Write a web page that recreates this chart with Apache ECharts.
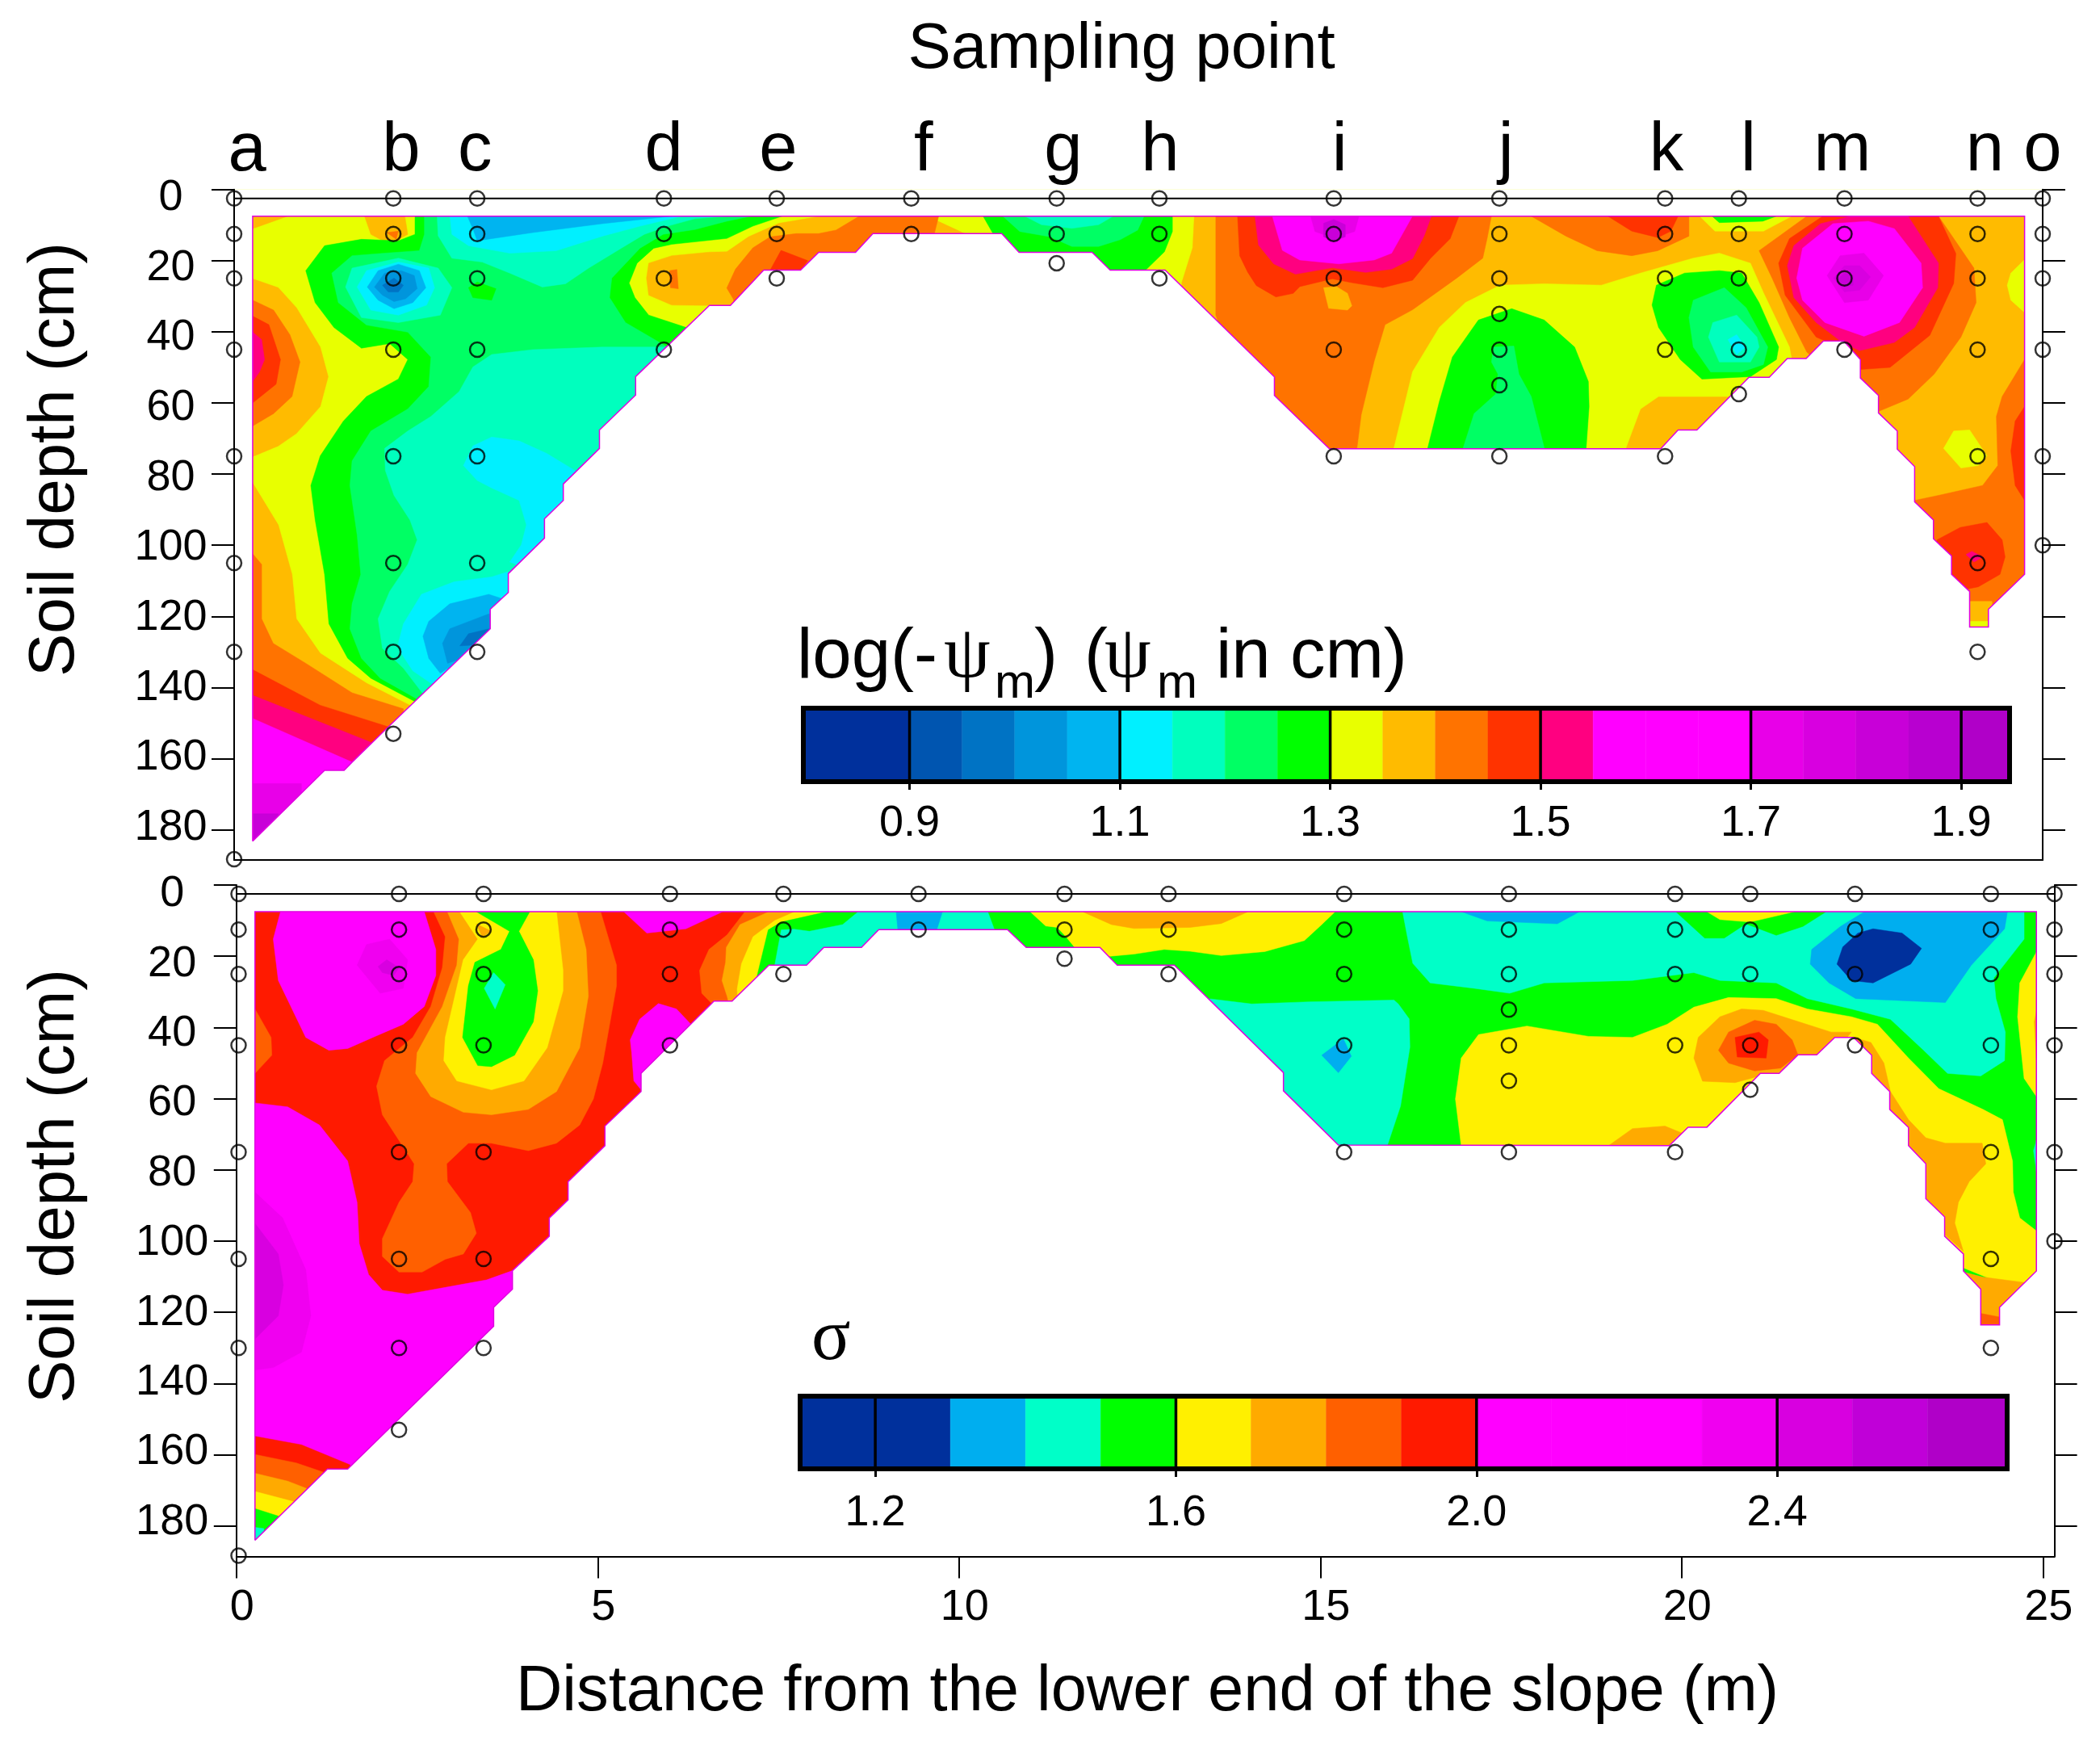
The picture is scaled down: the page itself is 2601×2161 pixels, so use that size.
<!doctype html>
<html lang="en">
<head>
<meta charset="UTF-8">
<title>Sampling point</title>
<script src="https://cdn.jsdelivr.net/npm/echarts@6/dist/echarts.min.js"></script>
<style>html,body{margin:0;background:#fff}#main{width:2601px;height:2161px}</style>
</head>
<body>
<div id="main"></div>
<script>
// sampling points
var sampleLetters = ['a','b','c','d','e','f','g','h','i','j','k','l','m','n','o'];
var letterX = [0.18,2.31,3.33,5.94,7.52,9.53,11.46,12.8,15.28,17.58,19.8,20.93,22.23,24.2,25.0];
var topSampleX = [0,2.2,3.36,5.94,7.5,9.36,11.37,12.79,15.2,17.49,19.78,20.8,22.26,24.1,25];
var bottomSampleX = [0.03,2.25,3.42,6,7.57,9.44,11.46,12.9,15.33,17.61,19.91,20.95,22.4,24.28,25.16];
var sampleDepths = [
    [2.5,12.5,25,45,75,105,130,188.3],
    [2.5,12.5,25,45,75,105,130,153],
    [2.5,12.5,25,45,75,105,130],
    [2.5,12.5,25,45],
    [2.5,12.5,25],
    [2.5,12.5],
    [2.5,12.5,20.7],
    [2.5,12.5,25],
    [2.5,12.5,25,45,75],
    [2.5,12.5,25,35,45,55,75],
    [2.5,12.5,25,45,75],
    [2.5,12.5,25,45,57.5],
    [2.5,12.5,25,45],
    [2.5,12.5,25,45,75,105,130],
    [2.5,12.5,25,45,75,100]
];

// axis ticks
var depthTicks = [0,20,40,60,80,100,120,140,160,180];
var distanceTicks = [0,5,10,15,20,25];

// colour scales (band edges, one colour per band)
var psiEdges = [0.799,0.9,0.95,1,1.05,1.1,1.15,1.2,1.25,1.3,1.35,1.4,1.45,1.5,1.55,1.6,1.65,1.7,1.75,1.8,1.85,1.9,1.946];
var psiColors = ['#00309c','#0055b0','#0073c4','#0095dc','#00b4f0','#00f0ff','#00ffbe','#00ff64','#00ff00','#e8ff00','#ffbb00','#ff7300','#ff3300','#ff0080','#ff00ff','#ff00ff','#ff00ff','#e800e8','#d800e0','#c800d8','#b800d0','#b000c8'];
var psiTicks = [0.9,1.1,1.3,1.5,1.7,1.9];
var sigmaEdges = [1.1,1.3,1.4,1.5,1.6,1.7,1.8,1.9,2,2.1,2.2,2.3,2.4,2.5,2.6,2.706];
var sigmaColors = ['#00309c','#00aeef','#00ffc8','#00ff00','#fff000','#ffaa00','#ff6000','#ff1a00','#ff00ff','#ff00ff','#ff00ff','#f000f0','#d800e0','#c000d8','#b000c8'];
var sigmaTicks = [1.2,1.6,2,2.4];

// outline of the measured section, [distance, depth]
var topOutline = [[0.256,183.2],[1.25,163.3],[1.52,163.3],[1.63,161],[2.11,151.5],[3.54,123.5],[3.54,118],[3.79,113.3],[3.79,108],[4.29,98],[4.29,92.6],[4.55,87.4],[4.55,82.8],[5.05,72.8],[5.05,67.6],[5.55,57.8],[5.55,52.6],[6.57,32.6],[6.86,32.6],[7.32,22.65],[7.83,22.65],[8.08,17.65],[8.59,17.65],[8.83,12.4],[10.61,12.4],[10.85,17.65],[11.86,17.65],[12.11,22.65],[12.87,22.65],[14.38,52.7],[14.38,57.9],[15.14,72.9],[19.72,72.9],[19.96,67.6],[20.22,67.6],[20.94,52.8],[21.22,52.8],[21.47,47.5],[21.73,47.5],[21.97,42.6],[22.25,42.6],[22.48,47.8],[22.48,53],[22.73,57.9],[22.73,62.8],[22.99,67.9],[22.99,73],[23.23,77.9],[23.23,87.8],[23.49,92.9],[23.49,98.2],[23.74,103],[23.74,108.2],[23.99,113],[23.99,123],[24.25,123],[24.25,118],[24.75,108.2],[24.75,7.5],[0.256,7.5]];
var bottomOutline = [[0.257,184],[1.26,164],[1.54,164],[3.56,123.9],[3.56,118.6],[3.82,113.5],[3.82,108.3],[4.33,98.6],[4.33,93.5],[4.59,88.4],[4.59,83.3],[5.1,73.2],[5.1,67.7],[5.6,58],[5.6,52.9],[6.61,32.6],[6.86,32.6],[7.37,22.5],[7.89,22.5],[8.13,17.5],[8.65,17.5],[8.89,12.5],[10.67,12.5],[10.93,17.5],[11.95,17.5],[12.19,22.5],[12.98,22.5],[14.49,52.7],[14.49,57.8],[15.25,73],[19.83,73.2],[20.09,68],[20.35,68],[21.09,52.9],[21.35,52.9],[21.61,47.7],[21.87,47.7],[22.12,42.8],[22.38,42.8],[22.63,47.8],[22.63,52.9],[22.88,58],[22.88,63],[23.14,68.1],[23.14,73.2],[23.38,78.3],[23.38,88.1],[23.64,93.2],[23.64,98.6],[23.9,103.6],[23.9,108.4],[24.14,113.5],[24.14,123.5],[24.4,123.5],[24.4,118.6],[24.91,108.4],[24.91,7.5],[0.257,7.5]];

// contour regions, painted in order: [value, [[distance, depth], ...]]
var topRegions = [
    [1.325,[[0,0],[26,0],[26,190],[0,190]]],
    // lower left
    [1.375,[[0,82.5],[0.256,82.5],[0.61,94.3],[0.8,108.2],[0.86,120.7],[1.19,130.4],[1.83,138.8],[2.43,145],[2.6,170],[0,190]]],
    [1.425,[[0,102.4],[0.256,102.4],[0.38,105.4],[0.38,120.7],[0.54,127.6],[0.99,133.2],[1.63,141.5],[2.34,146],[2.4,175],[0,190]]],
    [1.475,[[0,135],[0.256,135],[1.19,145],[2.2,151.5],[2.2,175],[0,190]]],
    [1.525,[[0,142.2],[0.256,142.2],[1.89,155.4],[1.9,175],[0,190]]],
    [1.6,[[0,148.7],[0.256,148.7],[1.63,161],[1.63,175],[0,190]]],
    [1.725,[[0,167],[0.93,167],[0.93,190],[0,190]]],
    [1.825,[[0,175.5],[0.61,175.5],[0.61,190],[0,190]]],
    // left edge bump
    [1.375,[[0,25.1],[0.256,25.1],[0.61,27.6],[0.86,33.2],[1.19,44.3],[1.3,52.6],[1.19,61],[0.86,68.6],[0.61,72.1],[0.256,75.1],[0,75.1]]],
    [1.425,[[0,31.1],[0.256,31.1],[0.545,33.9],[0.77,40.8],[0.91,48.5],[0.8,58.2],[0.545,63],[0.256,66.5],[0,66.5]]],
    [1.475,[[0,35.6],[0.256,35.6],[0.48,38],[0.64,47.8],[0.58,54.7],[0.256,60],[0,60]]],
    [1.525,[[0,40.1],[0.256,40.1],[0.38,42.2],[0.42,47.8],[0.35,51.3],[0.256,54],[0,54]]],
    // top left patches
    [1.375,[[0,5],[0.74,5],[0.74,7.5],[0.256,11],[0,11]]],
    [1.375,[[1.76,5],[1.89,12.6],[2.15,15.4],[2.4,12.6],[2.34,5]]],
    [1.425,[[2.11,12.1],[2.27,11.7],[2.24,14]]],
    // d to f
    [1.375,[[5.7,24.9],[5.73,20.7],[6.05,18.6],[6.57,17.6],[6.81,17.5],[7.11,13.3],[7.53,9.5],[8.14,7.4],[8.14,5],[9.57,5],[9.57,7.4],[10.1,12.4],[10.1,20],[8,30],[7,40],[6.57,32.6],[6.05,32.5],[5.73,29.7]]],
    [1.425,[[6.81,27.7],[6.93,22.4],[7.17,16.4],[7.41,13.3],[7.77,12.4],[8.08,12.4],[8.32,11.4],[8.65,7.4],[8.65,5],[9.74,5],[9.74,7.4],[9.68,12.4],[9.68,20],[7,40],[6.9,30.8]]],
    [1.475,[[7.41,22.65],[7.56,17.1],[7.93,20],[7.83,22.65],[7.83,25],[7.41,25]]],
    [1.425,[[6.02,22.8],[6.12,22.5],[6.14,27.9],[6.03,27.6]]],
    // left green family
    [1.275,[[2.5,5],[2.5,12.6],[2.27,14.4],[1.76,14],[1.25,15.8],[0.99,22.8],[1.12,31.8],[1.38,38.8],[1.76,44.6],[2.15,43.3],[2.4,47.8],[2.27,53.3],[1.83,58.2],[1.51,65.1],[1.19,74.9],[1.06,83.2],[1.12,92.9],[1.25,108.2],[1.31,122.1],[1.57,131.8],[1.89,137.4],[2.53,144.3],[3,150],[6.5,50],[6.25,38.8],[5.73,35.3],[5.54,30.4],[5.46,26.3],[5.57,20.7],[5.8,16.5],[6.05,15.4],[6.81,13.75],[7.17,10.3],[7.59,7.4],[7.59,5]]],
    [1.225,[[2.63,5],[2.63,12.6],[2.56,17.2],[2.08,17.9],[1.63,18.6],[1.35,23.5],[1.44,31.8],[1.83,38.1],[2.4,40.1],[2.72,47.1],[2.69,55.4],[2.4,61.7],[1.89,67.9],[1.63,76.3],[1.6,83.2],[1.7,97.1],[1.75,108.2],[1.63,116.5],[1.6,123.5],[1.76,131.8],[2.02,137.4],[2.5,142.9],[3,150],[6.5,60],[5.99,44.3],[5.41,37.4],[5.19,30.4],[5.22,24.9],[5.61,16.5],[5.93,12.6],[6.37,11.25],[6.81,8.9],[7.17,7.4],[7.17,5]]],
    [1.275,[[3.24,27.6],[3.36,26],[3.62,27.9],[3.56,31.1],[3.3,30.4]]],
    [1.175,[[5.99,44.3],[5.09,44.3],[4.13,45],[3.56,46.4],[3.3,49.9],[3.11,56.8],[2.72,63.8],[2.4,67.9],[2.08,72.8],[2.09,79],[2.21,86],[2.43,92.9],[2.53,98.5],[2.4,105.4],[2.15,113],[1.99,120.7],[2.05,129],[2.34,134.6],[2.6,141.5],[3,150],[6.5,60]]],
    [1.175,[[2.8,5],[2.82,13],[3.01,19.3],[3.43,20.4],[3.81,23.5],[4.26,27.4],[4.58,26.5],[4.9,22.1],[5.35,16.5],[5.67,12.6],[5.99,10.3],[6.37,8.2],[6.81,7.5],[6.81,5]]],
    [1.125,[[2.97,5],[3.01,12.6],[3.24,15.8],[3.81,17.9],[4.45,17.2],[5.09,13.1],[5.61,10.3],[6.18,7.5],[6.18,5]]],
    [1.075,[[3.17,5],[3.3,11],[3.36,14.4],[4.13,12.1],[5.09,9.6],[6.05,7.5],[6.05,5]]],
    // blob at b, 25 cm
    [1.175,[[1.54,27.4],[1.63,22.1],[2.27,19.3],[2.82,22.1],[3.01,27.6],[2.85,35.3],[2.27,37.4],[1.76,36]]],
    [1.125,[[1.7,27.4],[1.83,22.8],[2.27,20.4],[2.69,22.1],[2.77,27.6],[2.66,32.5],[2.27,35.3],[1.89,33.9]]],
    [1.075,[[1.84,27.4],[1.99,22.8],[2.27,21],[2.56,22.8],[2.65,27.6],[2.47,31.8],[2.21,33.5],[1.99,31.1]]],
    [1.025,[[1.94,27.4],[2.08,23.5],[2.31,22.8],[2.49,24.2],[2.53,27.9],[2.37,30.7],[2.21,31.5],[2.05,29.7]]],
    [0.975,[[2.05,26.9],[2.21,24.9],[2.34,26.9],[2.27,28.8],[2.13,28.8]]],
    // c, 75 cm and 130 cm
    [1.125,[[3.17,77.6],[3.3,72.1],[3.56,69.6],[3.94,70.7],[4.32,74.2],[4.71,79],[5,85],[4.5,110],[3.81,104.7],[3.97,99.9],[4.04,94.3],[3.94,87.4],[3.56,83.9],[3.36,81.8]]],
    [1.125,[[2.27,127.6],[2.34,122.1],[2.59,113.8],[3.04,110.3],[3.56,108.9],[3.78,107.5],[4,115],[3.2,140],[2.72,138.8],[2.47,135.3],[2.31,130.4]]],
    [1.075,[[2.61,125.6],[2.69,121.4],[2.98,116.5],[3.52,113.8],[3.7,115],[3.7,125],[2.85,136],[2.69,131.8]]],
    [1.025,[[2.88,127.6],[2.98,123.5],[3.52,119.3],[3.7,120],[3.7,128],[2.95,133.2]]],
    [0.975,[[3.12,128.3],[3.24,124.9],[3.52,123.5],[3.7,124],[3.4,128]]],
    // g and h
    [1.275,[[10.35,5],[10.35,7.4],[10.49,12.4],[10.49,25],[12.6,25],[12.6,22.65],[12.86,17.5],[12.97,11.8],[12.97,7.4],[12.97,5]]],
    [1.225,[[10.62,5],[10.62,7.4],[10.86,11.8],[11.28,13.3],[11.58,16],[11.95,16],[12.25,14.1],[12.49,11.4],[12.58,7.4],[12.58,5]]],
    [1.175,[[10.92,5],[10.92,7.4],[11.16,9.9],[11.58,10.9],[11.95,9.9],[12.16,7.4],[12.16,5]]],
    // right half base
    [1.375,[[13.28,5],[13.25,16.4],[13.1,26.2],[13.1,40],[14,90],[26,130],[26,5]]],
    [1.425,[[13.57,5],[13.57,35.3],[14,60],[15.14,75],[15.52,72.9],[15.58,63.3],[15.76,48.2],[15.91,38],[16.29,33.8],[16.9,24.9],[17.26,19.3],[17.32,13.8],[17.38,7.5],[17.38,5]]],
    [1.425,[[17.93,5],[17.93,7.5],[18.41,13.1],[18.84,17.2],[19.32,18.6],[19.68,17.2],[20.11,13.1],[20.11,5]]],
    [1.475,[[18.99,5],[18.99,7.5],[19.32,11.7],[19.68,13.5],[19.86,11.7],[19.96,7.5],[19.96,5]]],
    // i
    [1.475,[[13.87,5],[13.87,7.4],[13.9,18.6],[14.01,23.2],[14.13,27],[14.4,30.2],[14.64,29.2],[14.73,27.3],[15.18,25.1],[15.45,26.2],[15.88,27.6],[16.29,25.5],[16.54,19.3],[16.81,13.8],[16.93,7.5],[16.93,5]]],
    [1.525,[[14.11,5],[14.11,7.4],[14.16,15.6],[14.37,20.9],[14.67,23.8],[15.18,22],[15.64,23.3],[16,22.4],[16.29,19.4],[16.45,13],[16.55,7.5],[16.55,5]]],
    [1.6,[[14.35,5],[14.35,7.4],[14.49,17.1],[14.73,19.8],[15.27,20.9],[15.76,19.8],[16,17.9],[16.29,7.4],[16.29,5]]],
    [1.725,[[14.88,5],[14.88,7.4],[14.94,11.8],[15.2,13.7],[15.49,11.8],[15.55,7.4],[15.55,5]]],
    [1.825,[[15.06,9.5],[15.2,8.4],[15.36,9.9],[15.36,13.3],[15.2,14.5],[15.06,13.3]]],
    [1.375,[[15.06,27.6],[15.24,27.3],[15.39,29.2],[15.45,32.7],[15.39,33.9],[15.13,33.4]]],
    // j to l
    [1.325,[[16.03,75],[16.03,72.9],[16.29,51.2],[16.66,38.75],[17.02,31.8],[17.5,26.9],[18.11,26.5],[18.9,26.9],[19.44,23.5],[20.17,19.3],[20.53,17.9],[20.96,20.7],[21.14,29],[21.5,44.3],[21.53,47.8],[21.5,55],[20.65,58.2],[19.69,58.2],[19.44,61.7],[19.24,72.6],[19.24,75]]],
    [1.275,[[16.5,75],[16.5,72.6],[16.66,59.6],[16.84,47.1],[17.2,36.7],[17.66,33.5],[18.11,36.7],[18.53,44.3],[18.72,54],[18.73,61],[18.69,72.6],[18.69,75]]],
    [1.225,[[16.99,75],[16.99,72.6],[17.14,63],[17.44,57.5],[17.47,51.9],[17.38,48.5],[17.41,44.3],[17.69,44],[17.76,51.9],[17.93,58.2],[18.11,72.6],[18.11,75]]],
    [1.275,[[19.6,32.5],[19.66,26.9],[20.05,23.5],[20.53,22.8],[20.84,23.5],[21.08,31.8],[21.35,44.3],[21.32,47.8],[20.96,52.6],[20.29,53.3],[19.99,47.8],[19.69,38.75]]],
    [1.225,[[20.11,36],[20.17,31.1],[20.6,27.6],[20.9,33.2],[21.2,44.3],[21.14,49.2],[20.84,51.3],[20.41,51.3],[20.17,44.3]]],
    [1.175,[[20.38,41.5],[20.44,37.4],[20.77,35.3],[21.05,41.5],[21.08,44.3],[20.96,48.5],[20.53,48.5]]],
    [1.125,[[20.65,42.2],[20.77,40.8],[20.89,44.3],[20.77,46.4]]],
    [1.325,[[20.26,5],[20.26,7.5],[20.47,11.7],[21.14,11.7],[21.53,7.5],[21.53,5]]],
    [1.275,[[20.43,5],[20.43,7.5],[20.53,9.3],[21.13,8.9],[21.32,7.5],[21.32,5]]],
    // m
    [1.425,[[21.74,5],[21.74,7.5],[21.08,17.2],[21.26,24.9],[21.5,36],[21.74,45.7],[22.5,60],[22.73,62.4],[23.14,58.9],[23.5,51.9],[23.87,41.5],[24.08,31.8],[24.05,22.1],[23.56,7.5],[23.56,5]]],
    [1.475,[[21.96,5],[21.96,7.5],[21.5,13.8],[21.35,20.7],[21.44,29.7],[21.87,41.5],[22.35,45.7],[22.48,50.6],[22.89,50],[23.44,41],[23.77,26.4],[23.8,18],[23.56,7.5],[23.56,5]]],
    [1.525,[[22.35,5],[22.35,7.5],[21.93,9.6],[21.56,15.8],[21.47,21.4],[21.56,30.4],[21.87,37.4],[22.23,43],[22.47,45.3],[22.95,43],[23.23,38.75],[23.55,27.6],[23.56,20.7],[23.14,7.5],[23.14,5]]],
    [1.6,[[21.6,24.9],[21.68,16.5],[22.1,9.6],[22.59,8.9],[22.95,11],[23.32,20.7],[23.34,27.6],[23.02,37.4],[22.53,41.25],[21.99,37.4],[21.68,31.1]]],
    [1.725,[[22.02,24.2],[22.2,18.6],[22.53,17.9],[22.8,24.2],[22.59,31.1],[22.26,31.8]]],
    [1.775,[[22.11,24.9],[22.26,21.4],[22.47,21.4],[22.62,24.6],[22.47,28.3],[22.26,28.8]]],
    [1.825,[[22.17,25.1],[22.26,23.5],[22.38,24.2],[22.38,26.9],[22.26,27.4]]],
    // n and right edge
    [1.325,[[24.51,26.9],[24.56,23.5],[24.75,19.7],[25,18],[25,36],[24.75,34.6],[24.56,31.1]]],
    [1.425,[[24.75,47.8],[24.44,58.2],[24.36,63.8],[24.38,77.6],[24.17,83.2],[23.56,86],[23.23,87.4],[23,100],[24,130],[26,130],[26,47.8]]],
    [1.475,[[24.75,61],[24.62,65.1],[24.56,73.5],[24.62,83.2],[24.75,87.4],[26,87.4],[26,61]]],
    [1.475,[[23.54,98.5],[23.86,95],[24.23,93.6],[24.44,98.5],[24.48,103.3],[24.41,108.2],[24.11,111.7],[23.94,112.4],[23.5,112]]],
    [1.525,[[23.94,102.6],[24.02,101.7],[24.17,103.3],[24.05,104.7]]],
    [1.325,[[23.63,72.8],[23.77,67.9],[23.99,67.6],[24.23,74.9],[24.11,77.6],[23.87,78.3]]],
    [1.375,[[23.9,115.8],[24.3,115.8],[24.3,122],[23.9,122]]],
    [1.325,[[23.9,121.4],[24.3,121.4],[24.3,125],[23.9,125]]]
];

var bottomRegions = [
    [1.95,[[0,0],[26,0],[26,190],[0,190]]],
    // b
    [2.15,[[0.61,5],[0.61,7.5],[0.51,15.2],[0.58,26.8],[0.96,42.8],[1.28,46.4],[1.54,45.9],[1.92,42.5],[2.31,39.1],[2.6,34.1],[2.76,25.4],[2.76,18.1],[2.6,7.5],[2.6,5]]],
    [2.35,[[1.67,22.5],[1.8,16.7],[2.12,15.2],[2.37,21],[2.31,29],[1.99,30.4]]],
    [2.45,[[1.96,22.9],[2.08,21],[2.25,23.2],[2.18,25.4],[2.02,24.6]]],
    // lower left
    [2.15,[[0,61.2],[0.257,61.2],[0.71,62.3],[1.15,67.4],[1.54,77.5],[1.67,89.1],[1.7,100.7],[1.83,109.4],[2.02,113.8],[2.37,114.9],[2.89,113],[3.46,110.9],[3.82,108.3],[4.5,115],[2,175],[0,190]]],
    [2.35,[[0,86.2],[0.257,86.2],[0.64,93.5],[0.96,108],[1.03,121],[0.9,131.2],[0.51,135.5],[0.257,136.2],[0,136.2]]],
    [2.45,[[0,95],[0.257,95],[0.58,103.6],[0.65,112.3],[0.58,121],[0.257,127.5],[0,127.5]]],
    [1.95,[[0,154.8],[0.257,154.8],[0.9,157.2],[1.57,162.8],[1.57,175],[0,190]]],
    [1.85,[[0,159.9],[0.257,159.9],[0.83,162.3],[1.25,165.2],[1.25,180],[0,190]]],
    [1.75,[[0,165.2],[0.257,165.2],[0.71,167.4],[0.99,169.6],[0.99,185],[0,190]]],
    [1.65,[[0,170.3],[0.257,170.3],[0.8,173.2],[0.8,185],[0,190]]],
    [1.55,[[0,175.1],[0.257,175.1],[0.58,177.2],[0.58,190],[0,190]]],
    [1.45,[[0,180.4],[0.257,180.4],[0.38,180.7],[0.38,190],[0,190]]],
    [1.85,[[0,34.8],[0.257,34.8],[0.48,42.8],[0.49,47.8],[0.257,52.9],[0,52.9]]],
    // c plume
    [1.85,[[2.73,5],[2.73,7.5],[2.89,14.5],[2.85,23.2],[2.69,34.1],[2.44,42.8],[2.05,49.3],[1.94,56.5],[2.02,64.5],[2.25,71.7],[2.46,78.3],[2.44,83.3],[2.25,89.1],[2.02,99.3],[2.02,104.3],[2.25,108.7],[2.57,108.7],[2.89,105.1],[3.14,103.6],[3.32,97.8],[3.24,92],[2.92,83.3],[2.91,78.3],[3.21,72.5],[3.53,72.5],[4.04,74.6],[4.43,72.5],[4.75,67.4],[4.94,60.1],[5.07,50],[5.26,28.3],[5.26,22.5],[5.04,7.5],[5.04,5]]],
    [1.75,[[2.92,5],[2.92,7.5],[3.08,15.2],[3.05,22.5],[2.85,34.1],[2.5,47.1],[2.48,52.9],[2.69,59.4],[3.14,63.8],[3.53,64.5],[4.04,63],[4.43,58],[4.75,45.7],[4.87,31.2],[4.84,18.1],[4.71,7.5],[4.71,5]]],
    [1.65,[[3.09,5],[3.09,7.5],[3.34,15.2],[3.14,21],[2.89,42.8],[2.87,49.3],[3.05,55],[3.53,57.5],[3.98,55],[4.3,45.7],[4.52,29.7],[4.52,23.9],[4.43,7.5],[4.43,5]]],
    [1.55,[[3.32,5],[3.32,7.5],[3.78,13],[3.66,18.1],[3.3,21.7],[3.21,28.3],[3.13,42.8],[3.34,50.7],[3.53,51],[3.85,47.8],[4.11,38.4],[4.17,29.7],[4.11,21],[3.91,13],[4.06,7.5],[4.06,5]]],
    [1.45,[[3.56,24.6],[3.72,28],[3.58,34.8],[3.43,29]]],
    [1.75,[[3.32,10.9],[3.53,13],[3.4,14.5]]],
    // d
    [2.15,[[5.36,5],[5.36,7.5],[5.68,13.5],[6.22,12.3],[6.73,7.5],[6.73,5]]],
    [2.15,[[5.45,43.5],[5.58,37.7],[5.84,33.3],[6.09,34.8],[6.29,39.1],[6.6,40],[5.7,60],[5.5,55],[5.47,47.1]]],
    [1.85,[[6.41,24],[6.54,18.1],[6.79,14],[7.03,7.7],[7.03,5],[9,5],[8,30],[6.9,40],[6.44,30.4]]],
    [1.75,[[6.72,26.8],[6.77,21.7],[6.78,17.5],[6.97,11.1],[7.36,7.6],[7.36,5],[9,5],[8,30],[6.9,40],[6.79,31.2]]],
    [1.65,[[6.93,29.2],[6.99,22.1],[7.15,14.5],[7.45,10],[7.72,7.6],[7.72,5],[9,5],[8,30],[6.95,36]]],
    // green base from e to the right edge
    [1.55,[[7.2,26],[7.36,12.6],[7.54,10.4],[8.15,7.6],[8.15,5],[26,5],[26,125],[23,120],[16,80],[7.2,30]]],
    [1.45,[[7.45,22.5],[7.54,12.6],[7.72,12.4],[7.93,13],[8.39,11.1],[8.6,7.6],[8.6,5],[10.4,5],[10.4,7.6],[10.49,12.5],[10.49,25],[7.45,25]]],
    [1.35,[[9.13,5],[9.13,7.6],[9.16,14],[9.67,14],[9.77,7.6],[9.77,5]]],
    // g and h
    [1.65,[[10.99,5],[10.99,7.6],[11.2,11.5],[11.36,11.9],[11.48,14.5],[11.6,17.5],[11.6,20],[12.09,20],[12.42,19.4],[12.84,18.1],[13.2,18.6],[13.63,19.8],[14.23,18.7],[14.78,15.6],[15.02,11.1],[15.2,7.6],[15.2,5]]],
    [1.75,[[11.72,5],[11.72,7.6],[12.11,11.1],[12.42,12.2],[13.2,11.9],[13.63,10.8],[13.99,7.6],[13.99,5]]],
    // i
    [1.45,[[13.45,31.9],[14.05,33.4],[14.84,32.8],[16.02,32.3],[16.08,33.4],[16.23,37.6],[16.24,45.5],[16.11,62.1],[15.93,73],[15.93,76],[15,76],[14,50]]],
    [1.35,[[15.02,47.8],[15.32,43.2],[15.43,48.1],[15.25,52.7]]],
    // upper band j to n
    [1.45,[[16.14,5],[16.14,7.6],[16.2,14],[16.28,22],[16.52,27.5],[17.13,29],[17.62,30.4],[18.1,27.5],[19.32,26.8],[20.17,24.6],[20.53,26.8],[21.31,27.5],[21.74,31.9],[22.35,34.8],[22.89,37.7],[23.35,46.4],[23.68,52.9],[24.14,53.6],[24.47,49.3],[24.48,41.3],[24.35,31.9],[24.32,26.1],[24.74,15.2],[24.74,7.5],[24.74,5]]],
    [1.55,[[19.92,5],[19.92,7.5],[20.32,14.9],[20.59,14.9],[20.89,10.9],[21.31,14.1],[21.68,11.6],[22,7.5],[22,5]]],
    [1.65,[[20.35,5],[20.35,7.5],[20.53,9.7],[20.95,10.4],[21.56,7.5],[21.56,5]]],
    [1.35,[[16.95,5],[16.95,7.5],[17.31,10.1],[18.28,10.9],[18.59,7.5],[18.59,5]]],
    [1.35,[[22.53,5],[22.53,7.5],[22.2,11.6],[21.8,18.1],[21.78,22.2],[22.04,27.5],[22.41,31.9],[23.65,33],[24.01,22.5],[24.47,12.3],[24.51,7.5],[24.51,5]]],
    [1.2,[[22.23,17.4],[22.15,22.2],[22.35,26.8],[22.65,27.5],[23.17,22.2],[23.32,17.8],[23.05,13.5],[22.65,12.3],[22.44,13.5]]],
    // yellow lobe below
    [1.65,[[16.95,76],[16.95,73.2],[16.87,60.1],[16.95,48.6],[17.19,42],[17.86,39.6],[18.71,42.5],[19.32,42.8],[19.8,39.1],[20.17,34.3],[20.65,31.6],[21.31,31.9],[21.74,34.8],[22.35,37],[22.71,39.1],[23.14,48.6],[23.56,57.2],[24.17,63],[24.44,65.9],[24.58,77.5],[24.59,86.2],[24.68,93.5],[24.91,97.1],[26,100],[26,125],[23,100],[22,60],[19,76]]],
    [1.75,[[20.17,48.6],[20.23,42.8],[20.53,37],[20.83,34.8],[21.13,35.2],[21.62,38.4],[22.07,41.3],[22.35,41.3],[22.2,45],[21.3,53],[21.08,53.6],[20.74,55.5],[20.29,55.1]]],
    [1.75,[[22.38,42.8],[22.62,44.2],[22.8,50],[22.89,58],[23.14,65.9],[23.38,71],[23.65,72.5],[24.16,72.5],[24.21,78.3],[23.98,83.3],[23.83,89.1],[23.78,94.9],[23.9,102.9],[23.2,90],[22.4,60],[22.2,43]]],
    [1.75,[[23.9,108.7],[24.17,110.1],[24.74,111.6],[24.9,125],[24,125]]],
    [1.85,[[24.14,120.3],[24.4,121.3],[24.4,125],[24.14,125]]],
    [1.75,[[18.99,76],[18.99,73.2],[19.32,68.4],[19.77,67.7],[20,69.6],[19.83,73.2],[19.83,76]]],
    [1.85,[[20.51,46.4],[20.65,41.3],[21.01,38],[21.31,39.1],[21.53,43.5],[21.61,47.7],[21.37,51.4],[21.01,52.2],[20.65,50]]],
    [1.95,[[20.74,42.8],[21.07,41.3],[21.2,43.5],[21.17,48.6],[20.77,48.3]]],
    // o side
    [1.65,[[24.91,18.8],[24.68,27.5],[24.65,37],[24.74,54.3],[24.91,59.4],[26,59],[26,18]]],
    [1.75,[[24.88,38.4],[24.91,35.5],[24.91,48.6]]],
    [1.45,[[24.87,74.6],[24.91,71.7],[24.91,80.4]]]
];

var font = 'Liberation Sans';
var chart = echarts.init(document.getElementById('main'));

function colorOf(edges, colors, value) {
    for (var i = 0; i < colors.length; i++) {
        if (value >= edges[i] && value < edges[i + 1]) return colors[i];
    }
    return colors[colors.length - 1];
}

function indexData(list) {
    return list.map(function (item, i) { return [i, 0]; });
}

// filled contour regions
function regionSeries(regions, edges, colors, axis) {
    return {
        type: 'custom', xAxisIndex: axis.x, yAxisIndex: axis.y, clip: true, silent: true, z: 2,
        data: indexData(regions),
        renderItem: function (params, api) {
            var r = regions[params.dataIndex];
            var c = colorOf(edges, colors, r[0]);
            return {
                type: 'polygon',
                shape: { points: r[1].map(function (p) { return api.coord(p); }) },
                style: { fill: c, stroke: c, lineWidth: 0.5 }
            };
        }
    };
}

// white cover outside the section, then its magenta outline and the frame line
function outlineSeries(outline, maxX, maxY, axis) {
    return {
        type: 'custom', xAxisIndex: axis.x, yAxisIndex: axis.y, clip: true, silent: true, z: 3,
        data: [[0, 0]],
        renderItem: function (params, api) {
            var outer = [[0, 0], [maxX, 0], [maxX, maxY], [0, maxY], [0, 0]];
            var hole = outline.concat([outline[0], [0, 0]]);
            var closed = outline.concat([outline[0]]);
            return {
                type: 'group',
                children: [{
                    type: 'polygon',
                    shape: { points: outer.concat(hole).map(function (p) { return api.coord(p); }) },
                    style: { fill: '#fff' }
                }, {
                    type: 'polyline',
                    shape: { points: closed.map(function (p) { return api.coord(p); }) },
                    style: { fill: null, stroke: '#e000e0', lineWidth: 1.5 }
                }, {
                    type: 'line',
                    shape: {
                        x1: api.coord([0, 2.5])[0], y1: api.coord([0, 2.5])[1],
                        x2: api.coord([maxX, 2.5])[0], y2: api.coord([maxX, 2.5])[1]
                    },
                    style: { stroke: '#000', lineWidth: 2 }
                }]
            };
        }
    };
}

function sampleSeries(xs, axis) {
    var pts = [];
    xs.forEach(function (x, i) {
        sampleDepths[i].forEach(function (d) { pts.push([x, d]); });
    });
    return {
        type: 'scatter', xAxisIndex: axis.x, yAxisIndex: axis.y, clip: false, silent: true, z: 5,
        data: pts, symbol: 'circle', symbolSize: 18,
        itemStyle: { color: 'rgba(0,0,0,0)', borderColor: '#000', borderWidth: 2.5 }
    };
}

// depth labels sit a little off their ticks in the original, more so near the top
function depthLabelSeries(axis, labelX, shiftTop, shiftBottom) {
    return {
        type: 'custom', xAxisIndex: axis.x, yAxisIndex: axis.y, clip: false, silent: true, z: 6,
        data: indexData(depthTicks),
        renderItem: function (params, api) {
            var d = depthTicks[params.dataIndex];
            var p = api.coord([labelX, d]);
            return {
                type: 'text', x: p[0], y: p[1] + shiftTop + (shiftBottom - shiftTop) * d / 180,
                style: { text: String(d), fontSize: 54, fontFamily: font, fill: '#000', align: 'center', verticalAlign: 'middle' }
            };
        }
    };
}

// colour scale bar
function scaleSeries(edges, colors, ticks, axis) {
    return {
        type: 'custom', xAxisIndex: axis.x, yAxisIndex: axis.y, clip: false, silent: true, z: 7,
        data: [[0, 0]],
        renderItem: function (params, api) {
            var first = edges[0], last = edges[edges.length - 1];
            var children = colors.map(function (c, i) {
                var a = api.coord([edges[i], 1]), b = api.coord([edges[i + 1], 0]);
                return { type: 'rect', shape: { x: a[0], y: a[1], width: b[0] - a[0], height: b[1] - a[1] }, style: { fill: c, stroke: c, lineWidth: 0.5 } };
            });
            ticks.forEach(function (t) {
                var a = api.coord([t, 1]), b = api.coord([t, 0]);
                children.push({ type: 'line', shape: { x1: a[0], y1: a[1], x2: b[0], y2: b[1] }, style: { stroke: '#000', lineWidth: 3.5 } });
            });
            var p = api.coord([first, 1]), q = api.coord([last, 0]);
            children.push({ type: 'rect', shape: { x: p[0], y: p[1], width: q[0] - p[0], height: q[1] - p[1] }, style: { fill: null, stroke: '#000', lineWidth: 6 } });
            return { type: 'group', children: children };
        }
    };
}

function depthAxis(gridIndex, maxDepth, isLeft) {
    return {
        gridIndex: gridIndex, type: 'value', inverse: true, min: 0, max: maxDepth, position: isLeft ? 'left' : 'right', z: 6,
        axisLine: { show: true, onZero: false, lineStyle: { color: '#000', width: 2 } },
        axisTick: { show: true, length: 28, customValues: depthTicks, lineStyle: { color: '#000', width: 2 } },
        axisLabel: { show: false },
        splitLine: { show: false }
    };
}

function scaleAxis(gridIndex, edges, ticks, labelGap) {
    return {
        gridIndex: gridIndex, type: 'value', min: edges[0], max: edges[edges.length - 1], position: 'bottom', z: 8,
        axisLine: { show: false },
        axisTick: { show: true, length: 10, customValues: ticks, lineStyle: { color: '#000', width: 3 } },
        axisLabel: {
            show: true, customValues: ticks, color: '#000', fontFamily: font, fontSize: 54, margin: labelGap,
            formatter: function (v) { return v.toFixed(1); }
        },
        splitLine: { show: false }
    };
}

function plainY(gridIndex) {
    return { gridIndex: gridIndex, type: 'value', min: 0, max: 1, show: false };
}

// text by baseline position
function caption(text, x, baseline, size, family, align) {
    return {
        type: 'text', x: x, y: baseline - 0.34 * size, z: 10, silent: true,
        style: { text: text, fontSize: size, fontFamily: family || font, fill: '#000', align: align || 'left', verticalAlign: 'middle' }
    };
}

var topAxis = { x: 0, y: 0 }, bottomAxis = { x: 1, y: 2 };

var option = {
    animation: false,
    backgroundColor: '#fff',
    grid: [
        { left: 290, width: 2240, top: 234.7, height: 830.3 },
        { left: 292.8, width: 2251.8, top: 1096, height: 831.6 },
        { left: 995, width: 1494, top: 877, height: 91 },
        { left: 991, width: 1495, top: 1729, height: 90 }
    ],
    xAxis: [
        {
            gridIndex: 0, type: 'value', min: 0, max: 25, position: 'bottom', z: 6,
            axisLine: { show: true, onZero: false, lineStyle: { color: '#000', width: 2 } },
            axisTick: { show: false }, axisLabel: { show: false }, splitLine: { show: false }
        },
        {
            gridIndex: 1, type: 'value', min: 0, max: 25.16, position: 'bottom', z: 6,
            axisLine: { show: true, onZero: false, lineStyle: { color: '#000', width: 2 } },
            axisTick: { show: true, length: 27, customValues: distanceTicks, lineStyle: { color: '#000', width: 2 } },
            axisLabel: { show: true, customValues: distanceTicks, color: '#000', fontFamily: font, fontSize: 54, margin: 37, padding: [0, 0, 0, 14] },
            splitLine: { show: false }
        },
        scaleAxis(2, psiEdges, psiTicks, 25),
        scaleAxis(3, sigmaEdges, sigmaTicks, 28)
    ],
    yAxis: [
        depthAxis(0, 188.5, true),
        depthAxis(0, 188.5, false),
        depthAxis(1, 188.57, true),
        depthAxis(1, 188.57, false),
        plainY(2),
        plainY(3)
    ],
    series: [
        regionSeries(topRegions, psiEdges, psiColors, topAxis),
        outlineSeries(topOutline, 25, 188.5, topAxis),
        sampleSeries(topSampleX, topAxis),
        depthLabelSeries(topAxis, -0.875, 10.4, -2.5),
        regionSeries(bottomRegions, sigmaEdges, sigmaColors, bottomAxis),
        outlineSeries(bottomOutline, 25.16, 188.57, bottomAxis),
        sampleSeries(bottomSampleX, bottomAxis),
        depthLabelSeries(bottomAxis, -0.89, 11.5, -5),
        scaleSeries(psiEdges, psiColors, psiTicks, { x: 2, y: 4 }),
        scaleSeries(sigmaEdges, sigmaColors, sigmaTicks, { x: 3, y: 5 }),
        {
            // sampling point letters above the upper panel
            type: 'custom', xAxisIndex: 0, yAxisIndex: 0, clip: false, silent: true, z: 5,
            data: indexData(sampleLetters),
            renderItem: function (params, api) {
                var p = api.coord([letterX[params.dataIndex], -10.8]);
                return {
                    type: 'text', x: p[0], y: p[1],
                    style: { text: sampleLetters[params.dataIndex], fontSize: 85, fontFamily: font, fill: '#000', align: 'center', verticalAlign: 'middle' }
                };
            }
        }
    ],
    graphic: {
        elements: [
            caption('Sampling point', 1389, 89, 80, font, 'center'),
            caption('Distance from the lower end of the slope (m)', 1421, 2123, 79.5, font, 'center'),
            {
                type: 'text', x: 69, y: 569, rotation: Math.PI / 2, z: 10, silent: true,
                style: { text: 'Soil depth (cm)', fontSize: 80, fontFamily: font, fill: '#000', align: 'center', verticalAlign: 'middle' }
            },
            {
                type: 'text', x: 69, y: 1469, rotation: Math.PI / 2, z: 10, silent: true,
                style: { text: 'Soil depth (cm)', fontSize: 80, fontFamily: font, fill: '#000', align: 'center', verticalAlign: 'middle' }
            },
            caption('log(-', 987, 845, 87),
            caption('\u03c8', 1169, 845, 92, 'Liberation Serif'),
            caption('m', 1232, 868, 60),
            caption(')', 1281, 845, 87),
            caption('(', 1343, 845, 87),
            caption('\u03c8', 1368, 845, 92, 'Liberation Serif'),
            caption('m', 1433, 868, 60),
            caption('in cm)', 1506, 845, 87),
            caption('\u03c3', 1005, 1690, 90, 'Liberation Serif')
        ]
    }
};

chart.setOption(option);
</script>
</body>
</html>
